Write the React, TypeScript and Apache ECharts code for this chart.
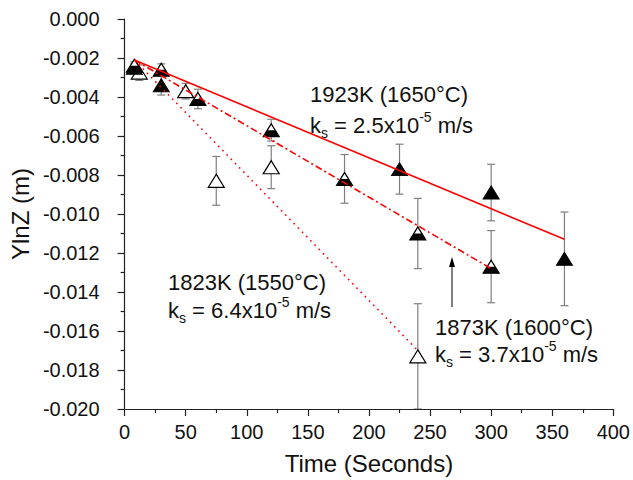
import React, { useEffect, useRef } from "react";
import * as echarts from "echarts";

// ---- data ----
const xTicks = { min: 0, max: 400, interval: 50 };
const yTicks = { min: -0.02, max: 0, interval: 0.002 };

// 1923K (filled triangles)
const t1923 = [8, 30, 225, 300, 360];
const y1923 = [-0.0025, -0.0034, -0.0077, -0.0089, -0.0123];
const e1923 = [0.0002, 0.0005, 0.00128, 0.00145, 0.0024];

// 1873K (half-filled triangles)
const t1873 = [8, 30, 60, 120, 180, 240, 300];
const y1873 = [-0.0024, -0.0026, -0.0041, -0.0057, -0.0082, -0.011, -0.0127];
const e1873 = [0.0002, 0.0003, 0.0005, 0.00056, 0.00125, 0.0018, 0.00185];

// 1823K (open triangles)
const t1823 = [12, 50, 75, 120, 240];
const y1823 = [-0.00275, -0.0037, -0.0083, -0.0076, -0.0173];
const e1823 = [0.0004, 0.0004, 0.00125, 0.0011, 0.0027];

// fitted lines (end points)
const fit1923 = [[8, -0.0021], [360, -0.0113]];
const fit1873 = [[8, -0.0021], [300, -0.0128]];
const fit1823 = [[8, -0.0021], [240, -0.017]];

const labels = [
  { title: "1923K (1650°C)", ks: "2.5" },
  { title: "1873K (1600°C)", ks: "3.7" },
  { title: "1823K (1550°C)", ks: "6.4" },
];

const FONT = "'Liberation Sans', Arial, Helvetica, sans-serif";
const TXT = "#111";
const AX = "#222";
const RED = "#ff0000";
const SYM: [number, number] = [16, 13];

function pts(t: number[], y: number[]) {
  return t.map((v, i) => [v, y[i]]);
}
function errs(t: number[], y: number[], e: number[]) {
  return t.map((v, i) => [v, y[i], e[i]]);
}

export default function App() {
  const ref = useRef<HTMLDivElement>(null);
  useEffect(() => {
    document.body.style.margin = "0";
    if (!ref.current) return;
    const chart = echarts.init(ref.current, undefined, { renderer: "svg" });

    const errData = [
      ...errs(t1923, y1923, e1923),
      ...errs(t1873, y1873, e1873),
      ...errs(t1823, y1823, e1823),
    ];

    const ksLine = (ks: string) => `{n|k}{s|s}{n| = ${ks}x10}{p|-5}{n| m/s}`;
    const rich = {
      n: { fontSize: 22, fontFamily: FONT, fill: TXT, color: TXT, lineHeight: 30 },
      s: { fontSize: 14, fontFamily: FONT, fill: TXT, color: TXT, verticalAlign: "bottom" },
      p: { fontSize: 14, fontFamily: FONT, fill: TXT, color: TXT, verticalAlign: "top" },
    };
    const anno = (x: number, y1: number, y2: number, l: { title: string; ks: string }) => [
      {
        type: "text",
        x,
        y: y1,
        z: 10,
        style: { text: l.title, fontSize: 22, fontFamily: FONT, fill: TXT, align: "left", verticalAlign: "middle" },
      },
      {
        type: "text",
        x,
        y: y2,
        z: 10,
        style: { text: ksLine(l.ks), rich, fontSize: 22, fontFamily: FONT, fill: TXT, align: "left", verticalAlign: "middle" },
      },
    ];

    const option: any = {
      animation: false,
      backgroundColor: "#fff",
      grid: { left: 117, right: 19, top: 19, bottom: 69, containLabel: false },
      xAxis: {
        type: "value",
        min: xTicks.min,
        max: xTicks.max,
        interval: xTicks.interval,
        name: "Time (Seconds)",
        nameLocation: "middle",
        nameGap: 42,
        nameTextStyle: { fontSize: 24, fontFamily: FONT, color: TXT },
        axisLine: { show: true, onZero: false, lineStyle: { color: AX, width: 1.2 } },
        axisTick: { show: true, inside: false, length: 7, lineStyle: { color: AX, width: 1.2 } },
        minorTick: { show: true, splitNumber: 2, length: 4, lineStyle: { color: AX, width: 1.2 } },
        splitLine: { show: false },
        axisLabel: { fontSize: 20, fontFamily: FONT, color: TXT, margin: 13 },
      },
      yAxis: {
        type: "value",
        min: yTicks.min,
        max: yTicks.max,
        interval: yTicks.interval,
        name: "YlnZ (m)",
        nameLocation: "middle",
        nameGap: 83,
        nameRotate: 90,
        nameTextStyle: { fontSize: 24, fontFamily: FONT, color: TXT },
        axisLine: { show: true, onZero: false, lineStyle: { color: AX, width: 1.2 } },
        axisTick: { show: true, inside: false, length: 7, lineStyle: { color: AX, width: 1.2 } },
        minorTick: { show: true, splitNumber: 2, length: 4, lineStyle: { color: AX, width: 1.2 } },
        splitLine: { show: false },
        axisLabel: {
          fontSize: 20,
          fontFamily: FONT,
          color: TXT,
          margin: 25,
          formatter: (v: number) => (Math.abs(v) < 1e-9 ? "0.000" : v.toFixed(3)),
        },
      },
      series: [
        {
          type: "custom",
          name: "errors",
          z: 1,
          clip: true,
          encode: { x: 0, y: 1 },
          data: errData,
          renderItem: (_p: any, api: any) => {
            const x = api.value(0);
            const y = api.value(1);
            const e = api.value(2);
            const top = api.coord([x, y + e]);
            const bot = api.coord([x, y - e]);
            const w = 4;
            const st = { stroke: "#7f7f7f", lineWidth: 1.2 };
            return {
              type: "group",
              children: [
                { type: "line", shape: { x1: top[0], y1: top[1], x2: bot[0], y2: bot[1] }, style: st },
                { type: "line", shape: { x1: top[0] - w, y1: top[1], x2: top[0] + w, y2: top[1] }, style: st },
                { type: "line", shape: { x1: bot[0] - w, y1: bot[1], x2: bot[0] + w, y2: bot[1] }, style: st },
              ],
            };
          },
        },
        {
          type: "scatter",
          name: "1823K",
          z: 2,
          symbol: "triangle",
          symbolSize: SYM,
          itemStyle: { color: "#fff", borderColor: "#000", borderWidth: 1.2, opacity: 1 },
          data: pts(t1823, y1823),
        },
        {
          type: "scatter",
          name: "1923K",
          z: 3,
          symbol: "triangle",
          symbolSize: SYM,
          itemStyle: { color: "#000", borderColor: "#000", borderWidth: 1, opacity: 1 },
          data: pts(t1923, y1923),
        },
        {
          type: "scatter",
          name: "1873K",
          z: 4,
          symbol: "triangle",
          symbolSize: SYM,
          itemStyle: { color: "#fff", borderColor: "#000", borderWidth: 1.2, opacity: 1 },
          data: pts(t1873, y1873),
        },
        {
          type: "scatter",
          name: "1873K-half",
          z: 5,
          symbol: "path://M5,0 L15,0 L20,10 L0,10 Z",
          symbolSize: [SYM[0], SYM[1] / 2],
          symbolOffset: [0, SYM[1] / 4],
          itemStyle: { color: "#000", opacity: 1 },
          data: pts(t1873, y1873),
        },
        {
          type: "line",
          name: "fit1923",
          z: 6,
          symbol: "none",
          lineStyle: { color: RED, width: 1.6, type: "solid" },
          data: fit1923,
        },
        {
          type: "line",
          name: "fit1873",
          z: 6,
          symbol: "none",
          lineStyle: { color: RED, width: 1.6, type: [7, 3, 2, 3] },
          data: fit1873,
        },
        {
          type: "line",
          name: "fit1823",
          z: 6,
          symbol: "none",
          lineStyle: { color: RED, width: 1.6, type: [1.6, 4.4] },
          data: fit1823,
        },
      ],
      graphic: [
        ...anno(310, 94, 125, labels[0]),
        ...anno(435, 327, 354, labels[1]),
        ...anno(168, 282, 310, labels[2]),
        {
          type: "line",
          z: 10,
          shape: { x1: 452, y1: 307, x2: 452, y2: 264 },
          style: { stroke: "#000", lineWidth: 1 },
        },
        {
          type: "polygon",
          z: 10,
          shape: { points: [[452, 257], [449, 267], [455, 267]] },
          style: { fill: "#000" },
        },
      ],
    };

    chart.setOption(option);
    return () => chart.dispose();
  }, []);

  return <div ref={ref} style={{ width: 633, height: 480 }} />;
}
